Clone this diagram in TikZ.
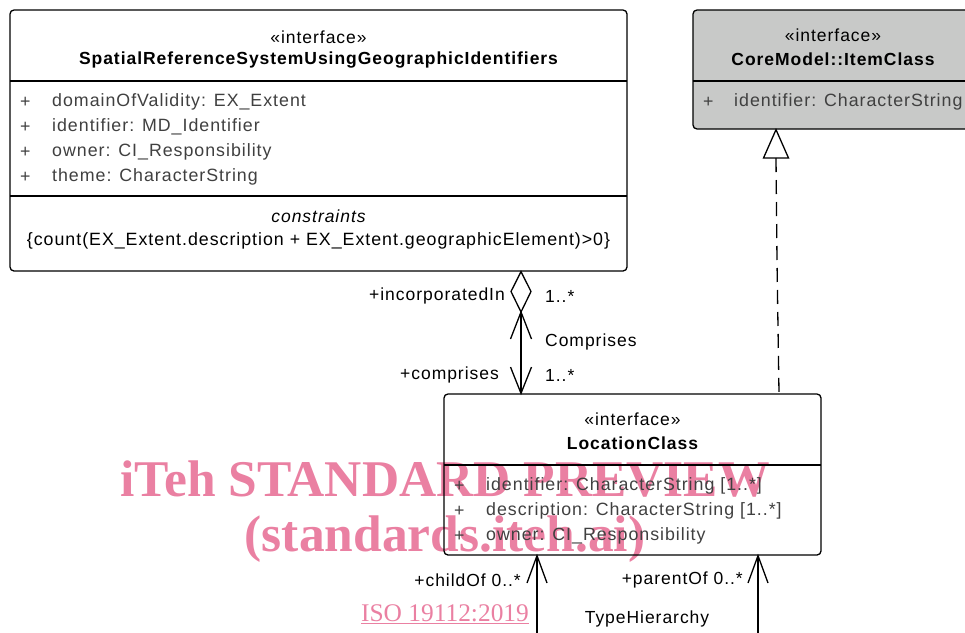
\documentclass[tikz,border=0pt]{standalone}
\usepackage{fontspec}
\setmainfont[LetterSpace=5.5]{Liberation Sans}
\newfontfamily\wmfont{Liberation Serif}
\usetikzlibrary{arrows.meta}
\definecolor{attr}{RGB}{64,64,64}
\definecolor{hdrgray}{RGB}{200,201,200}
\definecolor{wmpink}{RGB}{234,128,162}
\tikzset{
  umlbox/.style={draw=black, line width=1.3pt, rounded corners=4pt, inner sep=0pt},
  divider/.style={line width=1.3pt},
  stereo/.style={inner sep=0pt, font=\fontsize{17.5}{20}\selectfont},
  cname/.style={inner sep=0pt, font=\fontsize{17.5}{20}\selectfont\bfseries},
  attrtxt/.style={inner sep=0pt, anchor=west, text=attr, font=\fontsize{17.8}{20}\selectfont},
  lbl/.style={inner sep=0pt, font=\fontsize{17.5}{20}\selectfont},
  conn/.style={line width=1.3pt},
  wm/.style={inner sep=0pt, text=wmpink},
}
\begin{document}
\begin{tikzpicture}[x=1pt,y=-1pt]
\useasboundingbox (0,0) rectangle (965,632);
% ---- watermark (beneath everything)
\node[wm, font=\wmfont\bfseries\fontsize{51.5}{56}\selectfont] (wm1) at (445,479) {iTeh STANDARD PREVIEW};
\node[wm, font=\wmfont\bfseries\fontsize{51.5}{56}\selectfont] (wm2) at (445,539) {(standards.iteh.ai)};
\node[wm, font=\wmfont\fontsize{25.4}{28}\selectfont] (wm3) at (445,614) {\underline{ISO 19112:2019}};
% ---- SpatialReferenceSystemUsingGeographicIdentifiers
\node[umlbox, fill=white, minimum width=617pt, minimum height=261pt] (srs) at (318.5,140.5) {};
\draw[divider] (10,81) -- (627,81);
\draw[divider] (10,196) -- (627,196);
\node[stereo] (srsst) at (318.5,37) {«interface»};
\node[cname] (srsnm) at (318.5,60) {SpatialReferenceSystemUsingGeographicIdentifiers};
\foreach \y/\t [count=\i] in {102/{domainOfValidity: EX\_Extent},127/{identifier: MD\_Identifier},152/{owner: CI\_Responsibility},177/{theme: CharacterString}}{
  \node[attrtxt] (srsp\i) at (20,\y) {+};
  \node[attrtxt] (srsa\i) at (52,\y) {\t};
}
\node[stereo, font=\fontsize{17.5}{20}\selectfont\itshape] (srsc) at (318.5,216) {constraints};
\node[lbl, font=\fontsize{17.8}{20}\selectfont] (srsct) at (318.5,241) {\{count(EX\_Extent.description + EX\_Extent.geographicElement)>0\}};
% ---- CoreModel::ItemClass
\node[umlbox, fill=hdrgray, minimum width=280pt, minimum height=119pt] (item) at (833,69.5) {};
\draw[divider] (693,81) -- (973,81);
\node[stereo] (itemst) at (833,35) {«interface»};
\node[cname] (itemnm) at (833,59) {CoreModel::ItemClass};
\node[attrtxt] (itemp1) at (703,102) {+};
\node[attrtxt] (itema1) at (734,102) {identifier: CharacterString};
% ---- LocationClass (no fill so the watermark shows through)
\node[umlbox, minimum width=377pt, minimum height=161pt] (loc) at (632.5,474.5) {};
\draw[divider] (444,465) -- (821,465);
\node[stereo] (locst) at (632.5,419) {«interface»};
\node[cname] (locnm) at (632.5,443) {LocationClass};
\foreach \y/\t [count=\i] in {486/{identifier: CharacterString [1..*]},511/{description: CharacterString [1..*]},536/{owner: CI\_Responsibility}}{
  \node[attrtxt] (locp\i) at (454,\y) {+};
  \node[attrtxt] (loca\i) at (486,\y) {\t};
}
% ---- Comprises aggregation
\coordinate (aggtop) at (srs.south -| 521,0);
\coordinate (aggbot) at (loc.north -| 521,0);
\coordinate (dmb) at (521,312);
\draw[conn, fill=white, line join=miter] (aggtop) -- (531,291.5) -- (dmb) -- (511,291.5) -- cycle;
\draw[conn] (dmb) -- (aggbot);
\draw[conn] (510.5,339) -- (dmb) -- (531.5,339);
\draw[conn] (510.5,367) -- (aggbot) -- (531.5,367);
\node[lbl, anchor=east] (incl) at (505,296) {+incorporatedIn};
\node[lbl, anchor=west] (incm) at (545,296) {1..*};
\node[lbl, anchor=west] (compn) at (545,342) {Comprises};
\node[lbl, anchor=east] (compl) at (499,375) {+comprises};
\node[lbl, anchor=west] (compm) at (545,375) {1..*};
% ---- Realization
\coordinate (rtop) at (item.south -| 776,0);
\coordinate (rbase) at (776,158);
\coordinate (rbend) at (777,262);
\coordinate (rbot) at (loc.north -| 779,0);
\draw[conn, fill=white, line join=miter] (rtop) -- (788.5,158) -- (763.5,158) -- cycle;
\draw[conn, dash pattern=on 14pt off 8pt] (rbase) -- (rbend) -- (rbot);
% ---- TypeHierarchy self association
\coordinate (th1) at (loc.south -| 537,0);
\coordinate (th2) at (loc.south -| 758,0);
\draw[conn] (th1) -- (537,640) -- (758,640) -- (th2);
\draw[conn] (527,583) -- (th1) -- (547,583);
\draw[conn] (748,583) -- (th2) -- (768,583);
\node[lbl, anchor=east] (chl) at (521,580) {+childOf 0..*};
\node[lbl, anchor=east] (pal) at (743,580) {+parentOf 0..*};
\node[lbl] (thn) at (647,619) {TypeHierarchy};
\end{tikzpicture}
\end{document}
